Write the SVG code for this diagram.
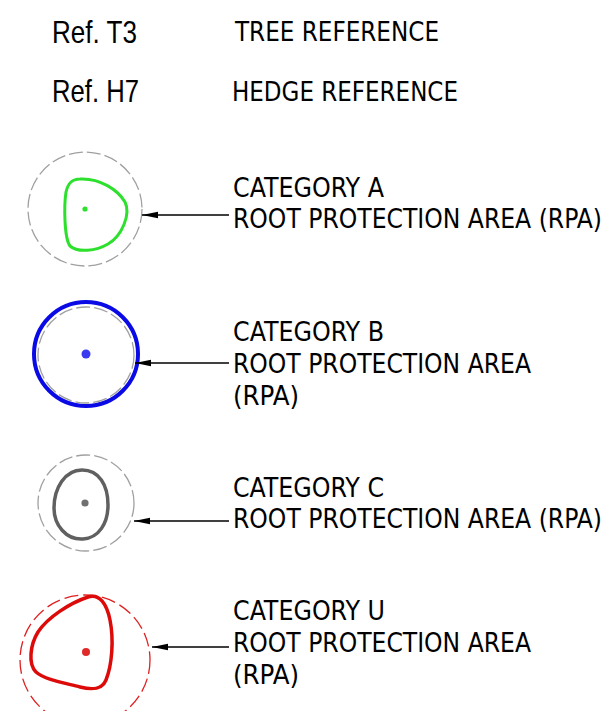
<svg xmlns="http://www.w3.org/2000/svg" width="612" height="711" viewBox="0 0 612 711">
  <style>
    .ref { font-family: "Liberation Sans", Arial, sans-serif; font-size: 32px; fill: #000; }
    .lbl { font-family: "DejaVu Sans Condensed", "DejaVu Sans", Verdana, sans-serif; font-stretch: condensed; font-size: 26px; fill: #000; }
    .rpa { fill: none; stroke: #a0a0a0; stroke-width: 1.3; stroke-dasharray: 14 4; }
    .lead { stroke: #000; stroke-width: 1.7; fill: none; marker-start: url(#tip); }
  </style>
  <defs>
    <marker id="tip" viewBox="0 0 16 8" refX="0" refY="4" markerWidth="16" markerHeight="8" markerUnits="userSpaceOnUse" orient="auto">
      <path d="M0 4 L16 0.8 L16 7.2 Z" fill="#000"/>
    </marker>
  </defs>
  <rect width="612" height="711" fill="#fff"/>

  <!-- key: reference labels -->
  <g id="key-tree">
    <text class="ref" x="52" y="43" textLength="85" lengthAdjust="spacingAndGlyphs">Ref. T3</text>
    <text class="lbl" x="235" y="41" textLength="204" lengthAdjust="spacingAndGlyphs">TREE REFERENCE</text>
  </g>
  <g id="key-hedge">
    <text class="ref" x="52" y="102" textLength="87" lengthAdjust="spacingAndGlyphs">Ref. H7</text>
    <text class="lbl" x="232" y="101" textLength="226" lengthAdjust="spacingAndGlyphs">HEDGE REFERENCE</text>
  </g>

  <!-- category A -->
  <g id="cat-a">
    <circle class="rpa" cx="85" cy="209" r="57"/>
    <path d="M80 179 C100 178 118 190 125 202 C131 214 122 236 108 244 C96 251 78 253 70 246 C64 238 64 205 66 192 C68 183 72 179 80 179 Z" fill="none" stroke="#2ee02e" stroke-width="3"/>
    <circle cx="85" cy="209" r="2.6" fill="#2ee02e"/>
    <text class="lbl" x="233" y="197" textLength="151" lengthAdjust="spacingAndGlyphs">CATEGORY A</text>
    <text class="lbl" x="233" y="228" textLength="369" lengthAdjust="spacingAndGlyphs">ROOT PROTECTION AREA (RPA)</text>
  </g>

  <!-- category B -->
  <g id="cat-b">
    <circle cx="86" cy="354" r="52" fill="none" stroke="#0a0ae6" stroke-width="4"/>
    <circle class="rpa" cx="86" cy="355" r="48" stroke-dasharray="14 3"/>
    <circle cx="86" cy="354" r="4.5" fill="#3a3af0"/>
    <text class="lbl" x="233" y="341" textLength="151" lengthAdjust="spacingAndGlyphs">CATEGORY B</text>
    <text class="lbl" x="233" y="373" textLength="298" lengthAdjust="spacingAndGlyphs">ROOT PROTECTION AREA</text>
    <text class="lbl" x="233" y="405" textLength="66" lengthAdjust="spacingAndGlyphs">(RPA)</text>
  </g>

  <!-- category C -->
  <g id="cat-c">
    <circle class="rpa" cx="86" cy="503" r="48"/>
    <path d="M82 470 C99 470 108 485 108 505 C108 523 99 538 83 539 C66 540 54 525 54 508 C54 488 65 470 82 470 Z" fill="none" stroke="#606060" stroke-width="3.5"/>
    <circle cx="85" cy="503" r="3.6" fill="#707070"/>
    <text class="lbl" x="233" y="497" textLength="151" lengthAdjust="spacingAndGlyphs">CATEGORY C</text>
    <text class="lbl" x="233" y="528" textLength="369" lengthAdjust="spacingAndGlyphs">ROOT PROTECTION AREA (RPA)</text>
  </g>

  <!-- category U -->
  <g id="cat-u">
    <circle cx="85" cy="660" r="65" fill="none" stroke="#e02020" stroke-width="1.3" stroke-dasharray="14 5"/>
    <path d="M88 597 C100 593 107 605 110 620 C114 640 112 665 106 680 C102 690 92 690 80 687 C65 683 45 680 36 672 C28 664 30 645 38 632 C48 617 70 603 88 597 Z" fill="none" stroke="#dd0a0a" stroke-width="3.5"/>
    <circle cx="86" cy="652" r="4" fill="#e02a2a"/>
    <text class="lbl" x="233" y="620" textLength="152" lengthAdjust="spacingAndGlyphs">CATEGORY U</text>
    <text class="lbl" x="233" y="652" textLength="298" lengthAdjust="spacingAndGlyphs">ROOT PROTECTION AREA</text>
    <text class="lbl" x="233" y="684" textLength="66" lengthAdjust="spacingAndGlyphs">(RPA)</text>
  </g>

  <!-- leaders from labels to symbols -->
  <g id="connectors">
    <path class="lead" d="M142 215 H229"/>
    <path class="lead" d="M135 363 H229"/>
    <path class="lead" d="M134 521 H229"/>
    <path class="lead" d="M152 647 H229"/>
  </g>
</svg>
